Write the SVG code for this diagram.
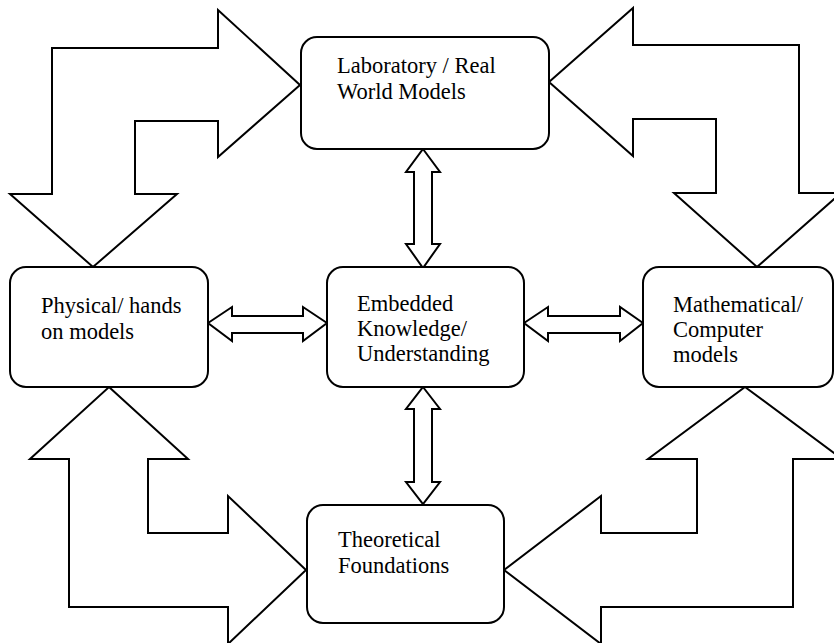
<svg xmlns="http://www.w3.org/2000/svg" width="834" height="643" viewBox="0 0 834 643">
<style>
.box{fill:#fff;stroke:#000;stroke-width:2}
.arr{fill:#fff;stroke:#000;stroke-width:2;stroke-linejoin:miter}
.t{font-family:'Liberation Serif', 'DejaVu Serif', serif;font-size:22.5px;fill:#000}
</style>
<rect width="834" height="643" fill="#fff"/>
<g id="connectors">
<polygon class="arr" points="300,85 218,10 218,48 52,48 52,194 10,194 93,267 177,194 135,194 135,121 218,121 218,157"/>
<polygon class="arr" points="549,82 633,8 633,45 799,45 799,193 841,193 757,267 674,193 716,193 716,119 633,119 633,156"/>
<polygon class="arr" points="109,387 188,459 148,459 148,533 228,533 228,496 306,570 228,644 228,607 69,607 69,459 30,459"/>
<polygon class="arr" points="745,387 842,459 793,459 793,607 601,607 601,644 504,570 601,496 601,533 697,533 697,459 648,459"/>
<polygon class="arr" points="423,149 440,172 432,172 432,244 440,244 423,268 406,244 414,244 414,172 406,172"/>
<polygon class="arr" points="423,387 440,409 432,409 432,482 440,482 423,504 406,482 414,482 414,409 406,409"/>
<polygon class="arr" points="208,323 232,307 232,316 303,316 303,307 327,323 303,341 303,333 232,333 232,341"/>
<polygon class="arr" points="524,323 548,307 548,316 620,316 620,307 643,323 620,341 620,333 548,333 548,341"/>
</g>
<g id="lab" class="t" font-family="Liberation Serif, serif">
<rect class="box" x="301" y="37" width="248" height="112" rx="16"/>
<text x="337" y="73">Laboratory / Real</text>
<text x="337" y="99">World Models</text>
</g>
<g id="physical" class="t" font-family="Liberation Serif, serif">
<rect class="box" x="10" y="267" width="198" height="120" rx="16"/>
<text x="41" y="313">Physical/ hands</text>
<text x="41" y="339">on models</text>
</g>
<g id="embedded" class="t" font-family="Liberation Serif, serif">
<rect class="box" x="327" y="267" width="197" height="120" rx="16"/>
<text x="357" y="311">Embedded</text>
<text x="357" y="336">Knowledge/</text>
<text x="357" y="361">Understanding</text>
</g>
<g id="mathematical" class="t" font-family="Liberation Serif, serif">
<rect class="box" x="643" y="267" width="190" height="120" rx="16"/>
<text x="673" y="312">Mathematical/</text>
<text x="673" y="337">Computer</text>
<text x="673" y="362">models</text>
</g>
<g id="theoretical" class="t" font-family="Liberation Serif, serif">
<rect class="box" x="307" y="505" width="197" height="118" rx="16"/>
<text x="338" y="547">Theoretical</text>
<text x="338" y="573">Foundations</text>
</g>
</svg>
